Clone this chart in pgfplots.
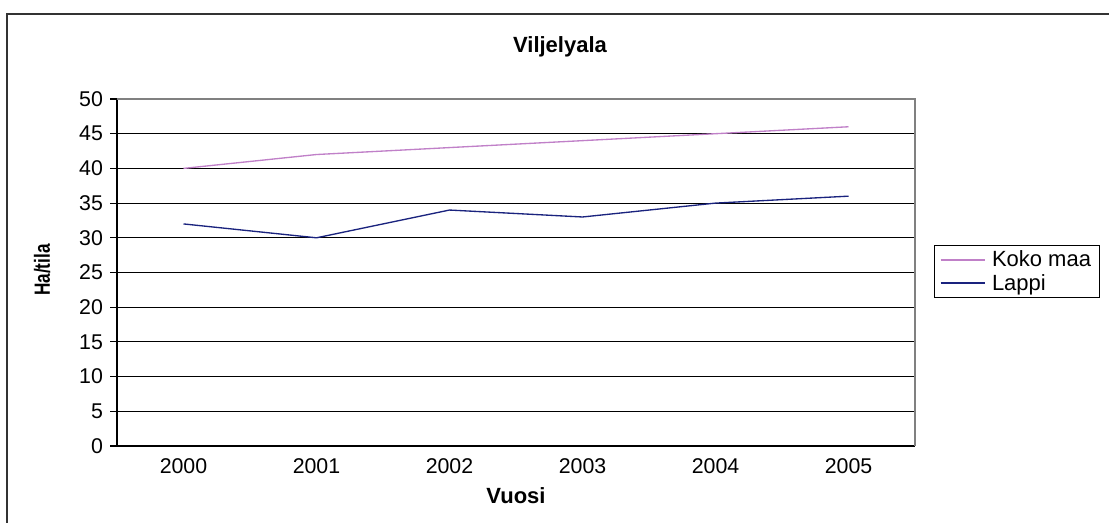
\documentclass[border=0pt]{standalone}
\usepackage{pgfplots}
\pgfplotsset{compat=1.18}
\usepackage{fontspec}
\setmainfont{Liberation Sans}
\definecolor{koko}{HTML}{C080C8}
\definecolor{lappi}{HTML}{1A237E}
\begin{document}
\begin{tikzpicture}
\path[use as bounding box] (0,0) rectangle (831.75pt,391.5pt);
\draw[line width=1.5pt,black!80] (5.25pt,-2pt) -- (5.25pt,381pt) -- (833pt,381pt);
\begin{axis}[
  at={(87.75pt,57pt)}, anchor=south west,
  scale only axis, width=598.5pt, height=260.25pt,
  xmin=-0.5, xmax=5.5, ymin=0, ymax=50,
  xtick={0,1,2,3,4,5},
  xticklabels={2000,2001,2002,2003,2004,2005},
  major x tick style={draw=none},
  extra x ticks={-0.5,0.5,1.5,2.5,3.5,4.5,5.5},
  extra x tick labels={},
  extra x tick style={major tick length=5pt, tick style={black, line width=0.8pt}},
  ytick={0,5,...,45},
  extra y ticks={50},
  extra y tick style={grid=none},
  ymajorgrids,
  major grid style={black, line width=0.8pt},
  tick align=outside,
  major tick length=5pt,
  tick style={black, line width=0.8pt},
  axis x line*=bottom, axis y line*=left,
  axis line style={black, line width=1pt, -},
  tick label style={font=\fontsize{16}{19}\selectfont},
  /pgf/number format/assume math mode=true,
  xticklabel style={yshift=-1pt},
  yticklabel style={xshift=-2pt},
  legend style={at={(1.0238,0.579)}, anchor=north west, draw=black, line width=0.6pt,
    font=\fontsize{16.5}{19}\selectfont, inner xsep=4pt, inner ysep=2pt, row sep=0pt,
    /tikz/every odd column/.append style={column sep=3pt},
    /tikz/every even column/.append style={column sep=2pt}},
  legend cell align=left,
  legend image code/.code={\draw[#1, line width=1.2pt] (0pt,0pt) -- (33pt,0pt);},
  clip=false,
]
\draw[gray, line width=1pt] (rel axis cs:0,1) -- (rel axis cs:1,1) -- (rel axis cs:1,0);
\addplot[koko, line width=1pt] coordinates {(0,40) (1,42) (2,43) (3,44) (4,45) (5,46)};
\addlegendentry{Koko maa}
\addplot[lappi, line width=1pt] coordinates {(0,32) (1,30) (2,34) (3,33) (4,35) (5,36)};
\addlegendentry{Lappi}
\end{axis}
\node[font=\bfseries\fontsize{16.5}{19}\selectfont] at (420pt,356.25pt) {Viljelyala};
\node[font=\bfseries\fontsize{16.5}{19}\selectfont] at (387pt,19.5pt) {Vuosi};
\node[font=\bfseries\fontsize{16.5}{19}\selectfont, rotate=90, xscale=0.78] at (31.5pt,189pt) {Ha/tila};
\end{tikzpicture}
\end{document}
